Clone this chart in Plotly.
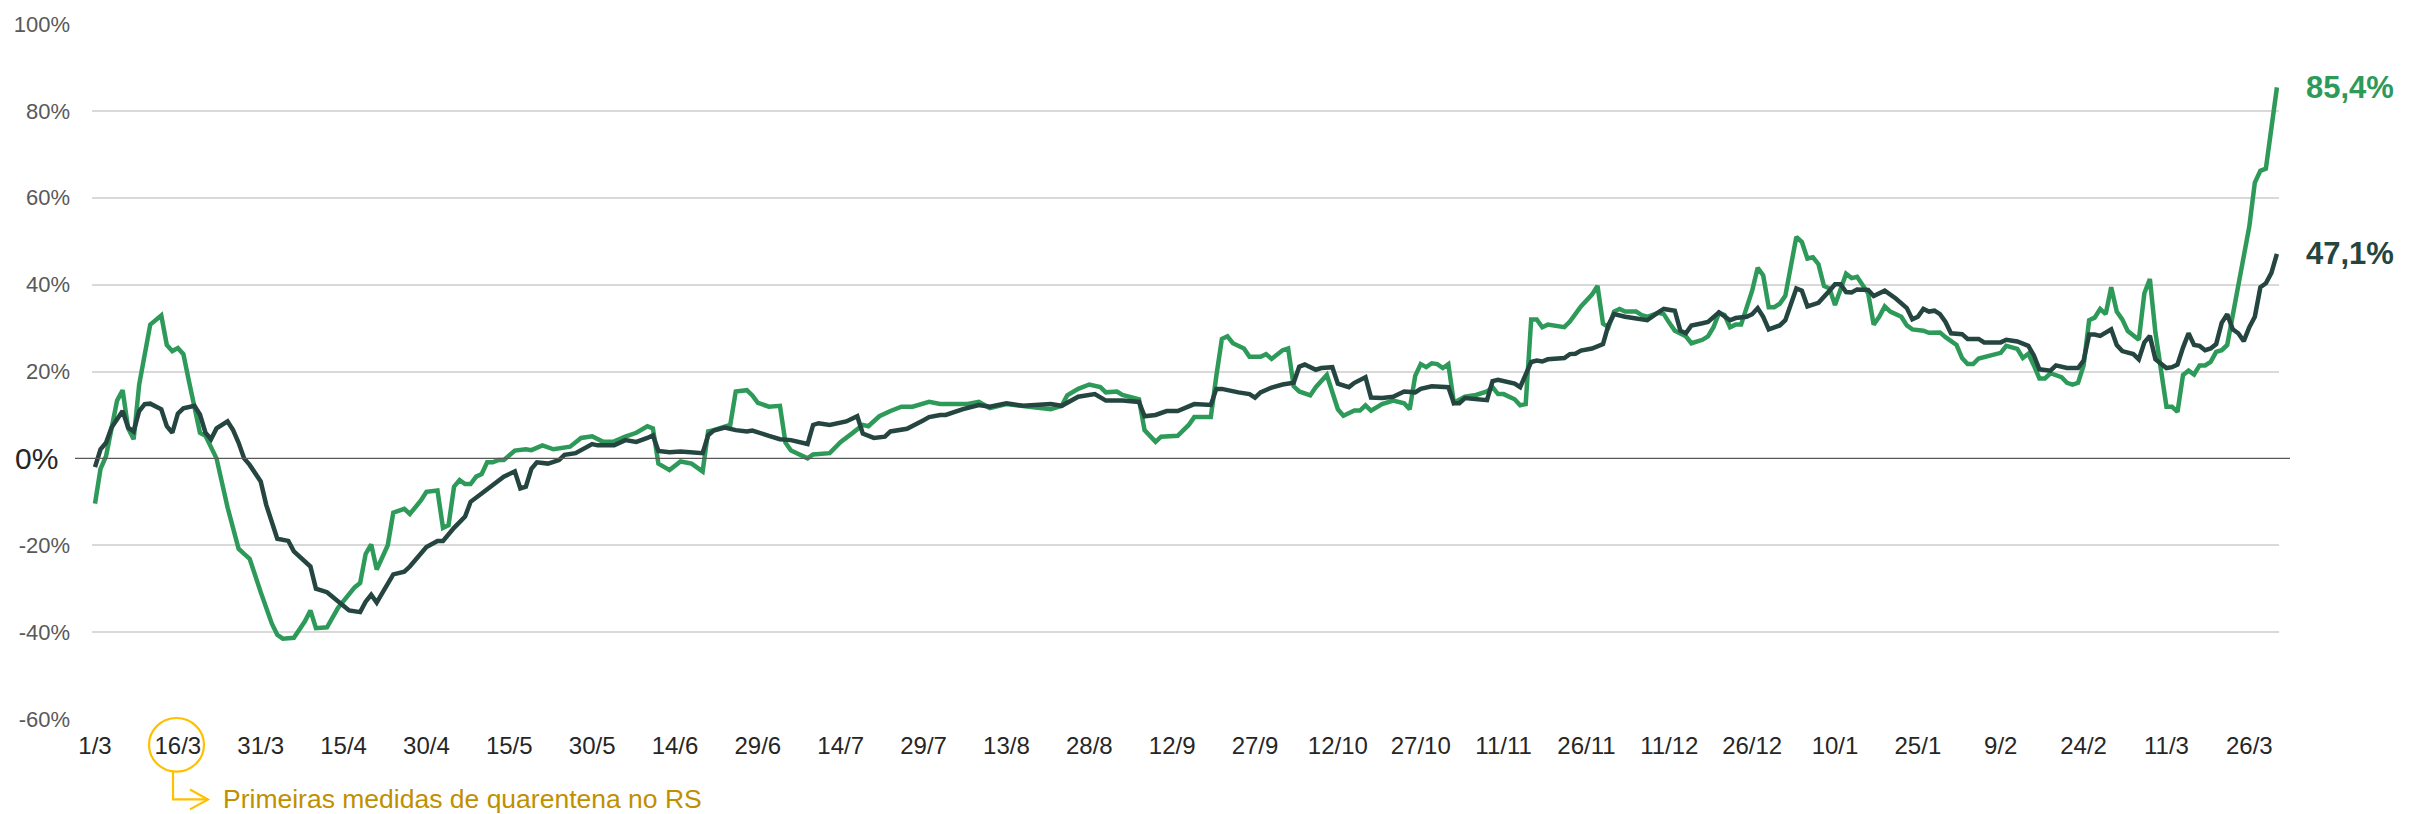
import pandas as pd
import plotly.graph_objects as go

# ---------------- data (day offsets from 1/3/2020, values in %) ----------------
start_date = "2020-03-01"

green_days = [0, 1, 2, 4, 5, 6, 7, 8, 10, 12, 13, 14, 15, 16, 17, 19, 20, 22, 24, 26, 27, 28, 30, 32, 33, 34,
              36, 38, 39, 40, 42, 44, 47, 48, 49, 50, 51, 52, 53, 54, 56, 57, 59, 60, 62, 63, 64, 65, 66, 67,
              68, 69, 70, 71, 72, 73, 74, 76, 78, 79, 81, 83, 86, 88, 90, 92, 94, 96, 98, 100, 101, 102, 104,
              106, 108, 110, 111, 112, 115, 116, 118, 119, 120, 122, 124, 125, 126, 129, 130, 133, 135, 137,
              139, 140, 142, 144, 146, 148, 150, 151, 153, 155, 157, 158, 160, 162, 165, 168, 171, 173, 175,
              176, 178, 180, 182, 183, 185, 186, 189, 190, 192, 193, 196, 198, 199, 202, 203, 204, 205, 206,
              208, 209, 211, 212, 213, 215, 216, 217, 218, 220, 221, 223, 225, 226, 228, 229, 230, 231, 233,
              234, 235, 237, 238, 239, 240, 241, 242, 243, 244, 245, 246, 248, 250, 252, 253, 254, 255, 257,
              258, 259, 260, 261, 262, 263, 266, 267, 269, 271, 272, 273, 274, 275, 276, 277, 279, 280, 281,
              283, 284, 285, 286, 288, 289, 291, 292, 293, 294, 295, 296, 297, 298, 300, 301, 302, 303, 304,
              305, 306, 307, 308, 309, 310, 311, 312, 313, 314, 315, 316, 317, 318, 319, 321, 322, 323, 324,
              325, 327, 328, 329, 331, 332, 334, 335, 337, 338, 339, 340, 341, 343, 345, 346, 348, 349, 350,
              351, 352, 353, 354, 356, 357, 358, 359, 360, 361, 362, 363, 364, 365, 366, 367, 368, 369, 370,
              371, 372, 373, 375, 376, 377, 378, 379, 380, 381, 382, 383, 384, 385, 386, 388, 390, 391, 392,
              393, 395]
green_vals = [-10.4, -2.4, 0.5, 13.3, 15.7, 6.9, 4.4, 17.0, 30.8, 32.9, 26.1, 24.7, 25.4, 24.0, 17.8, 5.9,
              5.2, 0.0, -11.3, -20.8, -22.0, -23.1, -30.8, -38.0, -40.6, -41.5, -41.3, -37.5, -35.0, -39.1,
              -38.9, -34.4, -29.7, -28.7, -22.0, -19.8, -25.6, -23.0, -20.0, -12.5, -11.6, -12.8, -9.7, -7.7,
              -7.4, -16.0, -15.4, -6.5, -5.0, -5.9, -5.9, -4.2, -3.6, -0.9, -0.9, -0.4, -0.4, 1.8, 2.1, 1.9,
              3.0, 2.1, 2.7, 4.7, 5.1, 3.8, 3.9, 5.0, 5.9, 7.4, 6.9, -1.2, -2.7, -0.7, -1.2, -3.0, 6.2, 6.5,
              7.7, 15.4, 15.7, 14.5, 12.8, 11.9, 12.1, 3.6, 1.8, 0.0, 0.9, 1.2, 3.8, 5.7, 7.7, 7.4, 9.7, 10.9,
              11.9, 11.9, 12.6, 13.0, 12.5, 12.5, 12.7, 12.5, 13.0, 11.6, 12.5, 12.1, 11.5, 11.3, 12.1, 14.5,
              16.0, 17.0, 16.4, 15.2, 15.4, 14.6, 13.6, 6.5, 3.8, 5.0, 5.2, 7.7, 9.5, 9.5, 19.0, 27.5, 28.1,
              26.5, 25.3, 23.4, 23.4, 24.0, 22.9, 24.9, 25.3, 16.6, 15.4, 14.5, 16.4, 19.2, 11.3, 9.8, 11.0,
              11.0, 12.2, 11.0, 12.5, 13.0, 13.3, 12.7, 11.3, 19.0, 21.7, 21.0, 21.9, 21.7, 20.8, 21.7, 12.8,
              14.2, 14.6, 15.4, 16.4, 14.8, 14.8, 13.6, 12.2, 12.5, 32.0, 32.0, 30.2, 30.8, 30.2, 31.5, 35.0,
              37.7, 39.7, 31.0, 30.2, 33.8, 34.4, 33.8, 33.8, 33.0, 32.6, 33.5, 33.2, 31.2, 29.4, 28.1, 26.5,
              27.3, 28.1, 30.2, 33.5, 33.0, 30.2, 30.8, 30.8, 38.6, 43.9, 42.1, 34.8, 34.8, 35.6, 37.4, 43.9,
              51.0, 49.8, 46.0, 46.3, 44.7, 39.7, 39.1, 35.3, 38.6, 42.5, 41.5, 41.8, 38.0, 30.8, 32.6, 35.0,
              33.8, 32.6, 30.6, 29.7, 29.4, 28.9, 29.0, 27.9, 26.1, 23.1, 21.7, 21.7, 23.0, 23.7, 24.3, 25.9,
              25.2, 23.1, 24.1, 21.4, 18.4, 18.4, 19.6, 18.7, 17.4, 17.0, 17.4, 21.4, 31.8, 32.4, 34.4, 33.2,
              39.4, 33.8, 32.0, 29.3, 28.2, 27.3, 38.0, 41.3, 29.0, 11.9, 11.9, 10.7, 19.2, 20.2, 19.3, 21.4,
              21.4, 22.2, 24.5, 24.9, 26.1, 39.1, 53.4, 63.5, 66.2, 66.7, 85.4]

dark_days = [0, 1, 2, 3, 5, 6, 7, 8, 9, 10, 12, 13, 14, 15, 16, 18, 19, 20, 21, 22, 24, 25, 26, 27, 28, 30,
             31, 32, 33, 35, 36, 39, 40, 42, 44, 46, 48, 49, 50, 51, 52, 54, 56, 57, 60, 62, 63, 65, 67, 68,
             70, 71, 74, 76, 77, 78, 79, 80, 82, 84, 85, 87, 90, 91, 94, 96, 98, 100, 101, 102, 104, 106, 110,
             111, 112, 114, 116, 118, 119, 122, 124, 126, 128, 129, 130, 131, 133, 136, 138, 139, 141, 143,
             144, 147, 150, 151, 153, 154, 157, 160, 162, 165, 168, 173, 175, 178, 181, 183, 186, 189, 190,
             192, 194, 196, 199, 202, 203, 204, 207, 209, 210, 211, 213, 215, 217, 218, 219, 221, 222, 224,
             225, 227, 228, 230, 231, 233, 235, 237, 239, 240, 242, 245, 246, 247, 248, 250, 252, 253, 254,
             257, 258, 260, 261, 262, 263, 266, 267, 268, 269, 271, 272, 273, 274, 275, 277, 279, 280, 281,
             283, 284, 286, 287, 288, 289, 291, 292, 294, 296, 297, 299, 300, 301, 302, 303, 305, 306, 308,
             309, 310, 312, 314, 315, 316, 317, 318, 319, 321, 322, 324, 326, 328, 329, 330, 331, 332, 333,
             334, 335, 336, 338, 339, 341, 342, 345, 346, 348, 350, 351, 352, 354, 355, 357, 359, 360, 361,
             362, 363, 365, 366, 367, 369, 370, 371, 372, 373, 375, 376, 377, 378, 379, 380, 381, 382, 383,
             384, 385, 386, 387, 388, 389, 390, 391, 392, 393, 394, 395]
dark_vals = [-2.0, 2.1, 3.6, 7.1, 10.9, 7.1, 6.2, 10.9, 12.5, 12.6, 11.3, 7.4, 5.9, 10.3, 11.5, 12.1, 10.1,
             5.9, 4.4, 6.9, 8.5, 6.5, 3.6, 0.0, -1.5, -5.3, -10.7, -15.0, -18.5, -19.0, -21.4, -24.9, -30.0,
             -30.8, -33.0, -35.0, -35.4, -33.0, -31.4, -33.2, -31.0, -26.7, -26.1, -24.9, -20.4, -19.0,
             -19.0, -16.0, -13.4, -10.0, -8.1, -7.1, -4.2, -3.0, -6.9, -6.5, -2.4, -0.9, -1.2, -0.4, 0.8,
             1.2, 3.3, 3.0, 3.0, 4.2, 3.8, 4.7, 5.3, 1.7, 1.4, 1.6, 1.2, 5.3, 6.4, 7.1, 6.5, 6.2, 6.4, 5.2,
             4.4, 4.2, 3.6, 3.3, 7.7, 8.1, 7.7, 8.5, 9.7, 5.7, 4.7, 5.0, 6.2, 6.8, 8.8, 9.5, 10.0, 10.0,
             11.3, 12.3, 11.9, 12.7, 12.1, 12.5, 12.1, 14.2, 14.8, 13.3, 13.3, 13.0, 9.7, 10.0, 10.9, 10.9,
             12.5, 12.3, 16.0, 16.0, 15.2, 14.8, 14.0, 15.2, 16.3, 17.0, 17.4, 21.1, 21.6, 20.4, 20.8, 21.0,
             17.2, 16.4, 17.4, 18.7, 14.0, 13.9, 14.2, 15.4, 15.2, 16.0, 16.6, 16.4, 12.7, 12.7, 13.9, 13.6,
             13.4, 17.8, 18.1, 17.2, 16.4, 22.2, 22.5, 22.3, 22.8, 23.1, 24.0, 24.1, 24.8, 25.3, 25.7, 26.3,
             30.8, 33.2, 32.6, 32.3, 32.0, 31.8, 33.6, 34.4, 34.0, 29.4, 28.8, 30.6, 31.1, 31.4, 33.6, 31.8,
             32.3, 32.6, 33.2, 34.6, 32.6, 29.7, 30.6, 31.8, 39.1, 38.6, 35.0, 35.8, 38.6, 40.1, 40.1, 38.3,
             38.2, 38.9, 38.8, 37.4, 38.6, 36.8, 34.6, 32.0, 32.6, 34.4, 33.8, 34.0, 33.2, 31.4, 28.8, 28.6,
             27.5, 27.5, 26.7, 26.7, 27.3, 26.9, 25.9, 23.7, 20.5, 20.2, 21.4, 20.8, 20.8, 22.5, 28.5, 28.5,
             28.2, 29.7, 26.1, 24.7, 24.0, 22.8, 26.7, 28.2, 22.8, 20.8, 21.0, 21.6, 25.5, 28.8, 26.1, 25.9,
             24.9, 25.3, 26.3, 31.2, 33.2, 29.7, 28.8, 27.0, 30.2, 32.6, 39.4, 40.3, 42.7, 47.1]

tick_days = list(range(0, 391, 15))
tick_labels = ["1/3", "16/3", "31/3", "15/4", "30/4", "15/5", "30/5", "14/6", "29/6", "14/7", "29/7",
               "13/8", "28/8", "12/9", "27/9", "12/10", "27/10", "11/11", "26/11", "11/12", "26/12",
               "10/1", "25/1", "9/2", "24/2", "11/3", "26/3"]
y_ticks = [100, 80, 60, 40, 20, -20, -40, -60]
annotation_text = "Primeiras medidas de quarentena no RS"

# ---------------- styling ----------------
W, H = 2415, 814
L, R, T, B = 92, 136, 19, 95
PW, PH = W - L - R, H - T - B
FONT = "Liberation Sans, Arial, sans-serif"
GREEN = "#2e9a5a"
DARK = "#254540"
GOLD = "#ffc000"
GOLD_TEXT = "#bf9000"

t0 = pd.Timestamp(start_date)
to_date = lambda days: [t0 + pd.Timedelta(days=d) for d in days]


def px_x(px):
    return (px - L) / PW


def px_y(py):
    return (T + PH - py) / PH


fig = go.Figure()
fig.add_trace(go.Scatter(x=to_date(green_days), y=green_vals, mode="lines", name="Verde",
                         line=dict(color=GREEN, width=4.5), showlegend=False))
fig.add_trace(go.Scatter(x=to_date(dark_days), y=dark_vals, mode="lines", name="Escuro",
                         line=dict(color=DARK, width=4.5), showlegend=False))

x_start = t0 - pd.Timedelta(hours=13)
x_end = t0 + pd.Timedelta(days=395, hours=9)

fig.update_layout(
    width=W, height=H,
    margin=dict(l=L, r=R, t=T, b=B, pad=0),
    plot_bgcolor="white", paper_bgcolor="white",
    font=dict(family=FONT, size=24, color="#262626"),
    xaxis=dict(range=[x_start, x_end], tickvals=to_date(tick_days), ticktext=tick_labels,
               showgrid=False, zeroline=False, showline=False, ticks="",
               ticklabelstandoff=10, tickfont=dict(size=24, color="#262626")),
    yaxis=dict(range=[-60, 100], tickvals=y_ticks, ticktext=[f"{v}%" for v in y_ticks],
               showgrid=True, gridcolor="#d9d9d9", gridwidth=1.5, zeroline=False, showline=False,
               ticks="", ticklabelstandoff=21, tickfont=dict(size=22, color="#595959")),
)

# zero line (extends past the gridlines)
fig.add_shape(type="line", xref="paper", yref="y", x0=px_x(75), x1=px_x(2290), y0=0, y1=0,
              line=dict(color="#595959", width=1.3))
fig.add_annotation(xref="paper", yref="y", x=px_x(60), y=0, text="0%", showarrow=False,
                   xanchor="right", yanchor="middle", font=dict(size=30, color="#262626"))

# end labels
for vals, color in ((green_vals, GREEN), (dark_vals, DARK)):
    fig.add_annotation(xref="paper", yref="y", x=px_x(2304), y=vals[-1],
                       text="<b>" + f"{vals[-1]:.1f}%".replace(".", ",") + "</b>",
                       showarrow=False, xanchor="left", yanchor="middle",
                       font=dict(size=31, color=color))

# quarantine marker
fig.add_shape(type="circle", xref="paper", yref="paper", x0=px_x(149), x1=px_x(204),
              y0=px_y(772), y1=px_y(718), line=dict(color=GOLD, width=2.2))
fig.add_shape(type="path", xref="paper", yref="paper",
              path=f"M {px_x(173)},{px_y(772)} L {px_x(173)},{px_y(800)} L {px_x(208)},{px_y(800)}",
              line=dict(color=GOLD, width=2.2))
fig.add_shape(type="path", xref="paper", yref="paper",
              path=f"M {px_x(190)},{px_y(790)} L {px_x(208)},{px_y(800)} L {px_x(190)},{px_y(810)}",
              line=dict(color=GOLD, width=2.2))
fig.add_annotation(xref="paper", yref="paper", x=px_x(221), y=px_y(800), text=annotation_text,
                   showarrow=False, xanchor="left", yanchor="middle",
                   font=dict(size=26.5, color=GOLD_TEXT))

fig.write_html("out.html", config={"displayModeBar": False},
               post_script="document.body.style.margin='0';document.body.style.overflow='hidden';")
